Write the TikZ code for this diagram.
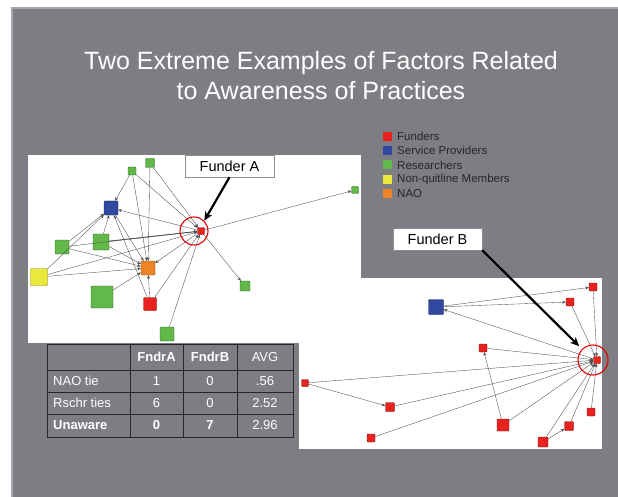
\documentclass[tikz,border=0pt]{standalone}
\usepackage{fontspec}
\setmainfont{Liberation Sans}
\usetikzlibrary{arrows.meta}
\definecolor{slidegray}{RGB}{125,126,131}
\definecolor{slideedge}{RGB}{165,166,170}
\definecolor{fundred}{RGB}{232,34,30}
\definecolor{provblue}{RGB}{48,72,160}
\definecolor{rschgreen}{RGB}{98,184,72}
\definecolor{nqyellow}{RGB}{234,232,58}
\definecolor{naoorange}{RGB}{238,132,40}
\definecolor{tabline}{RGB}{38,38,42}

\begin{document}
\begin{tikzpicture}[x=1pt,y=-1pt,
    actor/.style={draw=#1!55!black, fill=#1, rounded corners=1pt, inner sep=0pt, line width=0.4pt},
    tie/.style={draw=black!70, line width=0.35pt, -{Stealth[length=3.5pt,width=3pt]}},
    ring/.style={circle, draw=red!90!black, line width=1.1pt, inner sep=0pt},
    callout/.style={fill=white, draw=black!45, line width=0.4pt, minimum width=89, minimum height=22,
      inner sep=0pt, font=\fontsize{14.5}{16}\selectfont},
    pointer/.style={line width=2.2pt, -{Stealth[length=9pt,width=8pt]}},
    keybox/.style={fill=#1, minimum size=9, inner sep=0pt},
    keytext/.style={anchor=west, inner sep=0pt, text=black!85, font=\fontsize{11.5}{13}\selectfont},
    cell/.style={text=white, inner sep=0pt, font=\fontsize{13}{15}\selectfont}]
    \useasboundingbox (0,0) rectangle (618,497);
    \fill[white] (0,0) rectangle (618,497);
    % slide
    \fill[slidegray] (12,8) rectangle (618,497);
    \draw[slideedge, line width=1.2pt] (12,497) -- (12,8) -- (618,8);
    \node[text=white, align=center, font=\fontsize{25}{30}\selectfont] (title) at (321,76)
        {Two Extreme Examples of Factors Related\\to Awareness of Practices};
    % legend
    \foreach \c/\t [count=\i] in {fundred/Funders, provblue/Service Providers, rschgreen/Researchers,
        nqyellow/Non-quitline Members, naoorange/NAO} {
        \node[keybox=\c] (key\i) at (387,122+14.3*\i) {};
        \node[keytext] (lab\i) at (397,122+14.3*\i) {\t};
    }
    % network pictures
    \fill[white] (28,155) rectangle (361,343);
    \fill[white] (299,278) rectangle (602,449);

    % funder A network
    \node[actor=fundred, minimum size=7] (A) at (201,231) {};
    \node[actor=rschgreen, minimum size=8] (g1) at (132,171) {};
    \node[actor=rschgreen, minimum size=9] (g2) at (150,163) {};
    \node[actor=provblue, minimum size=14] (blA) at (111,208) {};
    \node[actor=rschgreen, minimum size=14] (g3) at (62,247) {};
    \node[actor=rschgreen, minimum size=16] (g4) at (101,242) {};
    \node[actor=nqyellow, minimum size=17] (yel) at (39,277) {};
    \node[actor=naoorange, minimum size=14] (nao) at (148,268) {};
    \node[actor=rschgreen, minimum size=22] (gbig) at (102,297) {};
    \node[actor=fundred, minimum size=13] (rA) at (150,304) {};
    \node[actor=rschgreen, minimum size=14] (gbot) at (167,334) {};
    \node[actor=rschgreen, minimum size=7] (gfar) at (355,190) {};
    \node[actor=rschgreen, minimum size=10] (gmid) at (245,286) {};
    \foreach \s/\t in {g1/A, g2/A, g1/nao, g2/nao, g1/blA, A/blA, g4/blA, g4/nao,
        g3/blA, g3/A, g3/nao, yel/blA, yel/nao, yel/A, blA/nao, A/nao,
        rA/nao, rA/blA, rA/A, gbig/nao, gbot/A, A/gfar, A/gmid}
        \draw[tie] (\s) -- (\t);
    \draw[tie, line width=0.8pt] (g4) -- (A);
    \node[ring, minimum size=28] (ringA) at (194,231) {};
    \node[callout] (labA) at (229.5,166) {Funder A};
    \draw[pointer] (labA.south) -- (ringA.north east);

    % funder B network
    \node[actor=fundred, minimum size=7] (B) at (597,360) {};
    \node[actor=fundred, minimum size=8] (r1) at (593,287) {};
    \node[actor=fundred, minimum size=8] (r2) at (570,302) {};
    \node[actor=provblue, minimum size=15] (blB) at (436,307) {};
    \node[actor=fundred, minimum size=8] (r3) at (483,348) {};
    \node[actor=fundred, minimum size=7] (r4) at (305,383) {};
    \node[actor=fundred, minimum size=9] (r5) at (390,407) {};
    \node[actor=fundred, minimum size=12] (r6) at (503,425) {};
    \node[actor=fundred, minimum size=8] (r7) at (591,412) {};
    \node[actor=fundred, minimum size=9] (r8) at (569,426) {};
    \node[actor=fundred, minimum size=10] (r9) at (543,442) {};
    \node[actor=fundred, minimum size=8] (r10) at (371,438) {};
    \foreach \s/\t in {blB/r1, blB/r2, B/blB, r1/B, r2/B, r3/B, r6/r3, r6/B,
        r4/B, r4/r5, r5/B, r10/B, r7/B, r8/B, r9/B, r9/r8}
        \draw[tie] (\s) -- (\t);
    \node[ring, minimum size=30] (ringB) at (593,360) {};
    \node[callout] (labB) at (437.5,239) {Funder B};
    \draw[pointer, shorten >=4pt] (labB.south east) -- (ringB.north west);

    % table
    \draw[tabline, line width=1pt] (47,344) rectangle (293,437);
    \foreach \x in {130,183,237}
        \draw[tabline, line width=1pt] (\x,344) -- (\x,437);
    \foreach \y in {370,392,414}
        \draw[tabline, line width=1pt] (47,\y) -- (293,\y);
    \node[cell] (hA) at (156.5,357) {\bfseries FndrA};
    \node[cell] (hB) at (210,357) {\bfseries FndrB};
    \node[cell] (hAvg) at (265,357) {AVG};
    \node[cell, anchor=west] (row1) at (53,381) {NAO tie};
    \node[cell] (a1) at (156.5,381) {1};
    \node[cell] (b1) at (210,381) {0};
    \node[cell] (c1) at (265,381) {.56};
    \node[cell, anchor=west] (row2) at (53,403) {Rschr ties};
    \node[cell] (a2) at (156.5,403) {6};
    \node[cell] (b2) at (210,403) {0};
    \node[cell] (c2) at (265,403) {2.52};
    \node[cell, anchor=west] (row3) at (53,425.5) {\bfseries Unaware};
    \node[cell] (a3) at (156.5,425.5) {\bfseries 0};
    \node[cell] (b3) at (210,425.5) {\bfseries 7};
    \node[cell] (c3) at (265,425.5) {2.96};
\end{tikzpicture}
\end{document}
